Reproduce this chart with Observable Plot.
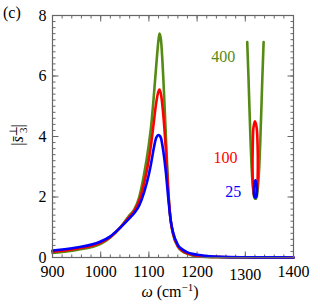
<!DOCTYPE html>
<html>
<head>
<meta charset="utf-8">
<script src="https://cdn.jsdelivr.net/npm/d3@7"></script>
<script src="https://cdn.jsdelivr.net/npm/@observablehq/plot@0.6"></script>
<style>
html, body { margin: 0; padding: 0; background: white; }
</style>
</head>
<body>
<div id="chart"></div>
<script>
// ---- data ----
const omega = [900, 950, 1000, 1020, 1040, 1060, 1070, 1080, 1090, 1100, 1105, 1110, 1115, 1120, 1122, 1125, 1130, 1135, 1140, 1145, 1150, 1160, 1170, 1180, 1190, 1200, 1220, 1250, 1300, 1350, 1400];
const s400 = [0.15, 0.25, 0.45, 0.66, 0.98, 1.4, 1.6, 2.0, 2.75, 3.75, 4.4, 5.3, 6.3, 7.2, 7.4, 7.2, 5.9, 4.1, 2.3, 1.25, 0.78, 0.36, 0.2, 0.12, 0.07, 0.045, 0.02, 0.01, 0.004, 0.002, 0.001];
const s100 = [0.19, 0.29, 0.49, 0.68, 0.98, 1.35, 1.55, 1.88, 2.45, 3.25, 3.8, 4.45, 5.1, 5.5, 5.55, 5.4, 4.7, 3.6, 2.2, 1.25, 0.8, 0.38, 0.22, 0.14, 0.09, 0.06, 0.03, 0.015, 0.006, 0.003, 0.001];
const s25  = [0.23, 0.33, 0.53, 0.7, 0.98, 1.3, 1.48, 1.72, 2.15, 2.75, 3.15, 3.6, 3.95, 4.05, 4.03, 3.95, 3.5, 2.85, 2.0, 1.25, 0.84, 0.42, 0.26, 0.17, 0.12, 0.09, 0.05, 0.02, 0.008, 0.004, 0.002];

// small schematic near 1300–1340
const uGreenX = [1304, 1306.5, 1309, 1311, 1313, 1316, 1318.5, 1321, 1323.5, 1326, 1329, 1331, 1333, 1335.5, 1338];
const uGreenY = [7.12, 6, 4.75, 3.8, 3.0, 2.3, 2.0, 1.94, 2.0, 2.3, 3.0, 3.8, 4.75, 6, 7.12];
const loopRedX = [1320, 1323.5, 1325.5, 1326, 1325, 1322.5, 1320.5, 1318.5, 1316, 1315, 1315.5, 1317];
const loopRedY = [4.5, 4.3, 3.7, 3.0, 2.4, 2.05, 2.0, 2.05, 2.4, 3.0, 3.7, 4.3];
const loopBlueX = [1321, 1323, 1324, 1323, 1321, 1319, 1318, 1319];
const loopBlueY = [2.55, 2.45, 2.2, 2.02, 1.98, 2.02, 2.2, 2.45];

const seriesNames = ["400", "100", "25"];
const seriesColors = ["#558b14", "#ff0000", "#0000ff"];
const labelX = [1254, 1259, 1275];
const labelY = [6.64, 3.29, 2.16];

const xMajor = [900, 1000, 1100, 1200, 1300, 1400];
const xMinor = d3.range(900, 1401, 20);
const yMajor = [0, 2, 4, 6, 8];
const yMinor = d3.range(0, 41).map(i => i * 0.2);

// ---- build tables ----
const xDomain = [900, 1400], yDomain = [0, 8];
const curves = [s400, s100, s25].map((vals, k) =>
  omega.map((w, i) => ({w, v: vals[i], k})));
const uGreen = uGreenX.map((x, i) => ({x, y: uGreenY[i]}));
const loopRed = loopRedX.map((x, i) => ({x, y: loopRedY[i]}));
const loopBlue = loopBlueX.map((x, i) => ({x, y: loopBlueY[i]}));
const labels = seriesNames.map((t, i) => ({t, x: labelX[i], y: labelY[i], c: seriesColors[i]}));

const W = 320, H = 306, mL = 52, mR = 27, mT = 15, mB = 49;
const pw = W - mL - mR, ph = H - mT - mB;
const tickColor = "#666";
const sw = 2.6;
const font = "Liberation Serif, DejaVu Serif, Times New Roman, serif";

// convert a tick length in pixels to data units along each scale
const pxY = p => p * (yDomain[1] - yDomain[0]) / ph;
const pxX = p => p * (xDomain[1] - xDomain[0]) / pw;

// inward ticks on all four sides, drawn as links
function tickLinks(minor, major, axis) {
  const rows = [...minor.map(v => ({v, l: 3})), ...major.map(v => ({v, l: 6}))];
  const o = {stroke: tickColor, strokeWidth: 1};
  if (axis === "x") return [
    Plot.link(rows, {x1: "v", x2: "v", y1: () => yDomain[0], y2: d => yDomain[0] + pxY(d.l), ...o}),
    Plot.link(rows, {x1: "v", x2: "v", y1: () => yDomain[1], y2: d => yDomain[1] - pxY(d.l), ...o})
  ];
  return [
    Plot.link(rows, {y1: "v", y2: "v", x1: () => xDomain[0], x2: d => xDomain[0] + pxX(d.l), ...o}),
    Plot.link(rows, {y1: "v", y2: "v", x1: () => xDomain[1], x2: d => xDomain[1] - pxX(d.l), ...o})
  ];
}

const svg = Plot.plot({
  width: W, height: H, marginLeft: mL, marginRight: mR, marginTop: mT, marginBottom: mB,
  x: {domain: xDomain},
  y: {domain: yDomain},
  style: {fontFamily: font, fontSize: "16px", background: "white", overflow: "visible"},
  marks: [
    ...tickLinks(xMinor, xMajor, "x"),
    ...tickLinks(yMinor, yMajor, "y"),
    Plot.axisX({anchor: "bottom", ticks: xMajor.filter(d => d !== 1300), tickSize: 0, tickPadding: 8, label: null, fill: "black", fontSize: 16, tickFormat: d => String(d)}),
    Plot.axisX({anchor: "bottom", ticks: [1300], tickSize: 0, tickPadding: 11, label: null, fill: "black", fontSize: 16, tickFormat: d => String(d)}),
    Plot.axisY({anchor: "left", ticks: yMajor, tickSize: 0, tickPadding: 6, label: null, fill: "black", fontSize: 16, tickFormat: d => String(d)}),
    ...curves.map((data, k) => Plot.line(data, {x: "w", y: "v", stroke: seriesColors[k], strokeWidth: sw, curve: "monotone-x"})),
    Plot.line(uGreen, {x: "x", y: "y", stroke: seriesColors[0], strokeWidth: sw, curve: "monotone-x"}),
    Plot.line(loopRed, {x: "x", y: "y", stroke: seriesColors[1], strokeWidth: sw, curve: "catmull-rom-closed"}),
    Plot.line(loopBlue, {x: "x", y: "y", stroke: seriesColors[2], strokeWidth: sw, curve: "catmull-rom-closed"}),
    Plot.text(labels, {x: "x", y: "y", text: "t", fill: "c", fontSize: 16}),
    Plot.frame({stroke: "#666", strokeWidth: 1.2})
  ]
});

const s = d3.select(svg);
s.append("text").attr("x", 3).attr("y", 18).attr("text-anchor", "start").attr("font-size", 16).attr("fill", "black").text("(c)");
const xl = s.append("text").attr("x", 170).attr("y", 297).attr("text-anchor", "middle").attr("font-size", 16).attr("fill", "black");
xl.append("tspan").attr("font-style", "italic").text("ω");
xl.append("tspan").text(" (cm");
xl.append("tspan").attr("dy", -6).attr("font-size", 11).text("−1");
xl.append("tspan").attr("dy", 6).text(")");
const yl = s.append("text").attr("transform", "translate(23,135) rotate(-90)").attr("text-anchor", "middle").attr("font-size", 16).attr("fill", "black");
yl.append("tspan").text("|");
yl.append("tspan").attr("font-style", "italic").text("s\u0304");
yl.append("tspan").attr("dy", -6).attr("font-size", 11).text("⊥");
yl.append("tspan").attr("dx", -7).attr("dy", 10).attr("font-size", 11).text("3");
yl.append("tspan").attr("dy", -4).text("|");
s.selectAll("text").attr("font-family", font);

document.getElementById("chart").appendChild(svg);
</script>
</body>
</html>
